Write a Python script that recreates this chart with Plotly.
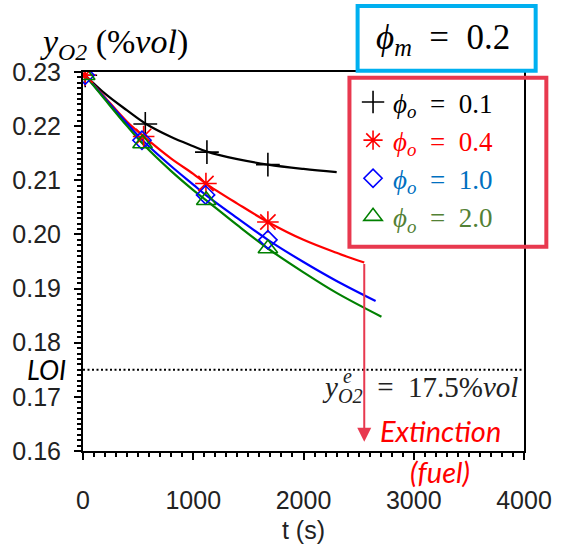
import plotly.graph_objects as go

# ---------------- data ----------------
# measured points
black_t = [20, 565, 1124, 1677]
black_y = [0.2294, 0.2204, 0.2152, 0.2129]
red_t = [20, 550, 1115, 1677]
red_y = [0.2294, 0.2181, 0.2094, 0.2023]
blue_t = [20, 535, 1112, 1677]
blue_y = [0.2294, 0.2174, 0.2073, 0.1990]
green_t = [20, 540, 1118, 1677]
green_y = [0.2294, 0.2168, 0.2063, 0.1974]

# model curves
black_ct = [20, 200, 400, 565, 800, 1000, 1124, 1400, 1677, 2000, 2301]
black_cy = [0.2294, 0.2260, 0.2229, 0.2205, 0.2180, 0.2163, 0.2153, 0.2139, 0.2129, 0.2121, 0.2115]
red_ct = [20, 200, 400, 550, 800, 1000, 1115, 1400, 1677, 2000, 2300, 2551]
red_cy = [0.2294, 0.2253, 0.2208, 0.2181, 0.2140, 0.2112, 0.2094, 0.2057, 0.2023, 0.1990, 0.1966, 0.1948]
blue_ct = [20, 200, 400, 535, 800, 1000, 1112, 1400, 1677, 2000, 2300, 2654]
blue_cy = [0.2294, 0.2251, 0.2205, 0.2175, 0.2126, 0.2092, 0.2073, 0.2030, 0.1990, 0.1949, 0.1914, 0.1877]
green_ct = [20, 200, 400, 540, 800, 1000, 1118, 1400, 1677, 2000, 2300, 2707]
green_cy = [0.2294, 0.2249, 0.2200, 0.2168, 0.2117, 0.2082, 0.2063, 0.2017, 0.1974, 0.1930, 0.1892, 0.1848]

series_labels = ["0.1", "0.4", "1.0", "2.0"]
phi_m = "0.2"
LOI = 0.175
arrow_end_y = 0.1617
x_ticks = [0, 1000, 2000, 3000, 4000]
y_ticks = [0.16, 0.17, 0.18, 0.19, 0.20, 0.21, 0.22, 0.23]

# ---------------- layout helpers ----------------
W, H = 564, 553
L, R, T, B = 79, 31, 72, 102
PW, PH = W - L - R, H - T - B


def px(x):
    return (x - L) / PW


def py(y):
    return (H - B - y) / PH


SERIF = "Liberation Serif, DejaVu Serif, serif"
SANS = "Liberation Sans, Arial, sans-serif"
CRIMSON = "rgb(232,57,79)"
SP = "\u2002"

fig = go.Figure()

line_cols = ["black", "#ff0000", "#0000ff", "#008000"]
text_cols = ["black", "#ff0000", "#0070c0", "#538135"]
symbols = ["cross-thin-open", "asterisk-open", "diamond-open", "triangle-up-open"]
sizes = [17, 18, 14, 17]
curves = [(black_ct, black_cy), (red_ct, red_cy), (blue_ct, blue_cy), (green_ct, green_cy)]
points = [(black_t, black_y), (red_t, red_y), (blue_t, blue_y), (green_t, green_y)]

for i in range(4):
    fig.add_trace(go.Scatter(x=curves[i][0], y=curves[i][1], mode="lines",
                             line=dict(color=line_cols[i], width=2.2, shape="spline"),
                             showlegend=False, hoverinfo="skip"))
for i in range(4):
    name = (f"<span style='color:{text_cols[i]}'><i>\u03d5</i><sub><i>o</i></sub>"
            f"{SP}={SP}{series_labels[i]}</span>")
    fig.add_trace(go.Scatter(x=points[i][0], y=points[i][1], mode="markers",
                             marker=dict(symbol=symbols[i], size=sizes[i],
                                         color=line_cols[i],
                                         line=dict(color=line_cols[i], width=1.6)),
                             name=name, legendgroup=f"g{i}"))

fig.update_layout(
    width=W, height=H,
    margin=dict(l=L, r=R, t=T, b=B),
    paper_bgcolor="white", plot_bgcolor="white",
    showlegend=True,
    legend=dict(x=px(357), y=py(78), xanchor="left", yanchor="top",
                bgcolor="rgba(0,0,0,0)", borderwidth=0,
                font=dict(family=SERIF, size=27, color="black"),
                tracegroupgap=0, itemsizing="trace"),
    xaxis=dict(range=[0, 4000], tickvals=x_ticks, ticks="outside", ticklen=7,
               tickwidth=2, tickcolor="black", showline=True, linewidth=2,
               linecolor="black", mirror=True, showgrid=False, zeroline=False,
               tickfont=dict(family=SANS, size=25, color="#222"),
               ticklabelstandoff=19,
               minor=dict(dtick=100, ticks="outside", ticklen=4, tickwidth=1.5,
                          tickcolor="black"),
               title=dict(text="t (s)", font=dict(family=SANS, size=25, color="#222"),
                          standoff=8)),
    yaxis=dict(range=[0.16, 0.23], tickvals=y_ticks, tickformat=".2f", ticks="outside",
               ticklen=7, tickwidth=2, tickcolor="black", showline=True, linewidth=2,
               linecolor="black", mirror=True, showgrid=False, zeroline=False,
               tickfont=dict(family=SANS, size=25, color="#222"),
               ticklabelstandoff=8,
               minor=dict(dtick=0.001, ticks="outside", ticklen=4, tickwidth=1.5,
                          tickcolor="black")),
)

# LOI dotted line
fig.add_shape(type="line", xref="paper", x0=0, x1=1, yref="y", y0=LOI, y1=LOI,
              line=dict(color="black", width=2, dash="2px,2.5px"))

# boxes
fig.add_shape(type="rect", xref="paper", yref="paper",
              x0=px(361.7), x1=px(545), y0=py(70.7), y1=py(6),
              line=dict(color="#00b0f0", width=4), fillcolor="white")
fig.add_shape(type="rect", xref="paper", yref="paper",
              x0=px(353.3), x1=px(556), y0=py(246.7), y1=py(77.7),
              line=dict(color=CRIMSON, width=4))

ann = []
ann.append(dict(xref="paper", yref="paper", x=px(33), y=py(44), xanchor="left",
                yanchor="middle", showarrow=False,
                text="<i>y</i><sub><i>O2</i></sub> (%<i>vol</i>)",
                font=dict(family=SERIF, size=34, color="black")))
ann.append(dict(xref="paper", yref="paper", x=px(450), y=py(40), xanchor="center",
                yanchor="middle", showarrow=False,
                text=f"<i>\u03d5</i><sub><i>m</i></sub>{SP}={SP}{phi_m}",
                font=dict(family=SERIF, size=35, color="black")))
ann.append(dict(xref="paper", yref="y", x=px(64), y=LOI, xanchor="right",
                yanchor="middle", showarrow=False, text="<i>LOI</i>",
                font=dict(family="Lato, sans-serif", size=27, color="black")))
ann.append(dict(xref="paper", yref="paper", x=px(323), y=py(389), xanchor="left",
                yanchor="middle", showarrow=False,
                text=f"<i>y</i><sub><i>O2</i></sub>{SP}={SP}{LOI*100:.1f}%<i>vol</i>",
                font=dict(family=SERIF, size=29, color="#222")))
ann.append(dict(xref="paper", yref="paper", x=px(351), y=py(376), xanchor="center",
                yanchor="middle", showarrow=False, text="<i>e</i>",
                font=dict(family=SERIF, size=20, color="#222")))
# extinction arrow from the end of the red curve
ann.append(dict(xref="x", yref="y", x=red_ct[-1], y=arrow_end_y,
                axref="x", ayref="y", ax=red_ct[-1], ay=red_cy[-1],
                showarrow=True, arrowhead=2, arrowsize=1.4, arrowwidth=2,
                arrowcolor=CRIMSON, text=""))
ann.append(dict(xref="paper", yref="paper", x=px(447), y=py(430), xanchor="center",
                yanchor="middle", showarrow=False, text="<i>Extinction</i>",
                font=dict(family="Lato, sans-serif", size=29, color="#ff0000")))
ann.append(dict(xref="paper", yref="paper", x=px(447), y=py(471), xanchor="center",
                yanchor="middle", showarrow=False, text="<i>(fuel)</i>",
                font=dict(family="Lato, sans-serif", size=29, color="#ff0000")))
fig.update_layout(annotations=ann)

fig.write_html("out.html")
